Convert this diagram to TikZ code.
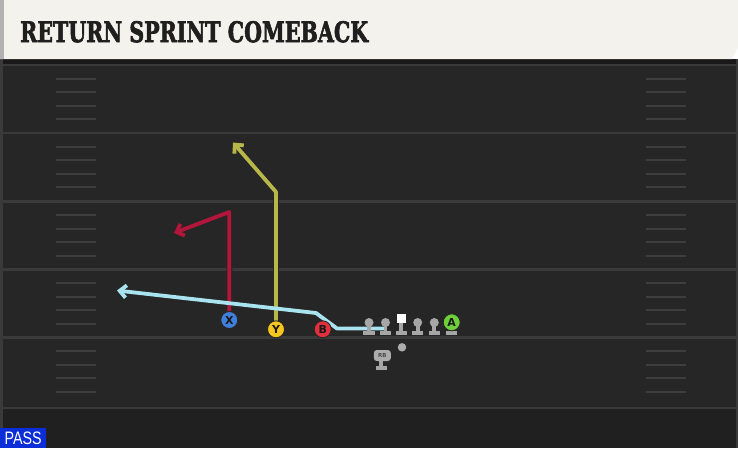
\documentclass[tikz,border=0pt]{standalone}
\usepackage{fontspec}
\setmainfont{DejaVu Sans}
\newfontfamily\titlefont{DejaVu Serif}[BoldFeatures={FakeBold=2.5}]
\newfontfamily\passfont{Liberation Sans}
\usetikzlibrary{arrows.meta}
\pgfdeclarelayer{bg}
\pgfdeclarelayer{routes}
\pgfsetlayers{bg,routes,main}
\definecolor{cream}{HTML}{F4F2EC}
\definecolor{fieldc}{HTML}{262626}
\definecolor{fieldlow}{HTML}{202020}
\definecolor{yardc}{HTML}{3A3A3A}
\definecolor{hashc}{HTML}{3D3D3D}
\definecolor{redroute}{HTML}{B3163A}
\definecolor{yelroute}{HTML}{B8B84A}
\definecolor{bluroute}{HTML}{A8E3EF}
\definecolor{xblue}{HTML}{3F80DA}
\definecolor{yyel}{HTML}{F4C61E}
\definecolor{bred}{HTML}{E1303C}
\definecolor{agreen}{HTML}{6FD03C}
\definecolor{olgray}{HTML}{A6A6A6}
\definecolor{passblue}{HTML}{0B2ED8}
\tikzset{
  player/.style={circle, draw=black!85, line width=0.9pt, minimum size=17pt, inner sep=0pt,
    font=\bfseries\fontsize{11}{11}\selectfont, text=black!90},
  outline/.style={line width=6pt, draw=black!85, line join=round, -{Straight Barb[length=7.5pt,width=15pt]}},
  routeline/.style={line width=3.8pt, line join=round, -{Straight Barb[length=6.5pt,width=12.5pt]}},
  head/.style={circle, fill=olgray, inner sep=0pt, minimum size=9pt},
  olpart/.style={fill=olgray},
  yard/.style={draw=yardc, line width=2.5pt},
  hash/.style={draw=hashc, line width=2pt},
}
\begin{document}
\begin{tikzpicture}[x=1pt,y=-1pt]
\useasboundingbox (0,0) rectangle (738,448);
% ---------- background ----------
\begin{pgfonlayer}{bg}
\fill[fieldc] (0,59) rectangle (738,448);
\fill[fieldlow] (0,409) rectangle (738,448);
\fill[black!90] (0,59) rectangle (738,64);
\foreach \y in {65,133,201.5,269.5,337.5,408} {
  \draw[yard] (0,\y) -- (738,\y);
}
\foreach \b in {65,133,201.5,269.5,337.5} {
  \foreach \k in {1,2,3,4} {
    \draw[hash] (56,\b+\k*13.6) -- (96,\b+\k*13.6);
    \draw[hash] (646,\b+\k*13.6) -- (686,\b+\k*13.6);
  }
}
\fill[yardc] (0,59) rectangle (3,448);
\fill[yardc] (736,59) rectangle (738,448);
% header
\fill[cream] (0,0) -- (738,0) -- (738,47) -- (732,59) -- (0,59) -- cycle;
\fill[gray!60] (0,0) rectangle (3.5,59);
\end{pgfonlayer}
\node[anchor=south west, inner sep=0pt] (title) at (20,42.7)
  {\resizebox{348pt}{21pt}{\titlefont\bfseries\color{black!88}RETURN SPRINT COMEBACK}};
% ---------- PASS label ----------
\node[fill=passblue, anchor=south west, minimum width=46pt, minimum height=20pt, inner sep=0pt,
  text=white] (pass) at (0,448) {\resizebox{37pt}{12.6pt}{\passfont PASS}};
% ---------- offensive line ----------
\foreach \n/\x in {lt/369,lg/385.5,rg/417.7,rt/434.3} {
  \fill[olpart] (\x-5.7,331) rectangle (\x+5.7,334.5);
  \fill[olpart] (\x-1.9,324) rectangle (\x+1.9,331);
  \node[head] (\n) at (\x,322.5) {};
}
\fill[olpart] (395.5,331) rectangle (407,334.5);
\fill[olpart] (399.3,322) rectangle (403.2,331);
\node[fill=white, inner sep=0pt, minimum size=9pt] (c) at (401.3,318.5) {};
% A
\fill[olpart] (446,331) rectangle (457.4,334.5);
\fill[olpart] (449.8,326) rectangle (453.6,331);
\node[player, fill=agreen] (A) at (451.7,322.3) {A};
% QB and RB
\node[circle, fill=gray!65, inner sep=0pt, minimum size=8.5pt] (qb) at (402,347.3) {};
\fill[olpart] (375.5,366) rectangle (387,369.5);
\fill[olpart] (379.4,360) rectangle (383.1,366);
\node[rounded corners=3pt, fill=gray!65, minimum width=17pt, minimum height=11pt, inner sep=0pt,
  font=\bfseries\fontsize{5.5}{5.5}\selectfont, text=black!70] (rb) at (382.3,355.5) {RB};
% ---------- skill players ----------
\node[player, fill=xblue] (X) at (229.3,320) {X};
\node[player, fill=yyel] (Y) at (276,329.3) {Y};
\node[player, fill=bred] (B) at (322.7,329.3) {B};
% ---------- route points ----------
\coordinate (x1) at (229.3,212);
\coordinate (x2) at (174,233);
\coordinate (y1) at (276,192);
\coordinate (y2) at (233,142.5);
\coordinate (b0) at (384,328.5);
\coordinate (b1) at (337,328.5);
\coordinate (b2) at (316,313);
\coordinate (b3) at (117,290.5);
% ---------- routes ----------
\begin{pgfonlayer}{routes}
\draw[outline] (X.center) -- (x1) -- (x2);
\draw[outline] (Y.center) -- (y1) -- (y2);
\draw[outline] (b0) -- (b1) -- (b2) -- (b3);
\draw[routeline, draw=redroute] (X.center) -- (x1) -- (x2);
\draw[routeline, draw=yelroute] (Y.center) -- (y1) -- (y2);
\draw[routeline, draw=bluroute] (b0) -- (b1) -- (b2) -- (b3);
\end{pgfonlayer}
\end{tikzpicture}
\end{document}
